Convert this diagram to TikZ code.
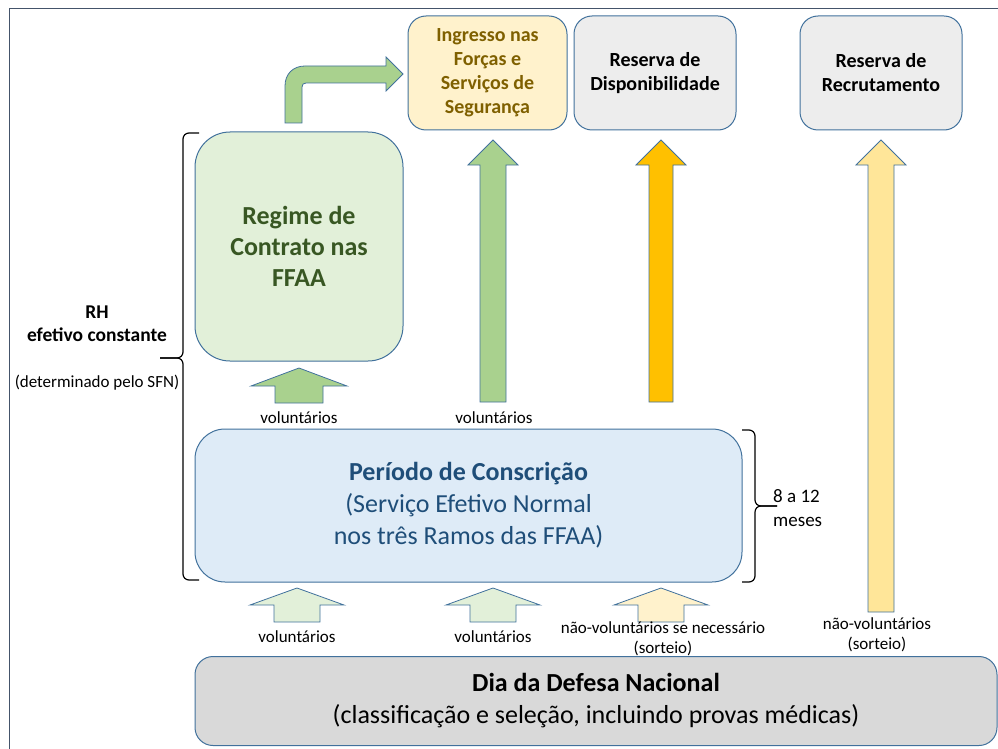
\documentclass[tikz,border=0pt]{standalone}
\usepackage{fontspec}
\setmainfont{Carlito}
\definecolor{bordc}{HTML}{41719C}
\definecolor{framec}{HTML}{44546A}
\definecolor{ingfill}{HTML}{FFF2CC}
\definecolor{ingtext}{HTML}{7F6000}
\definecolor{greyfill}{HTML}{EDEDED}
\definecolor{diafill}{HTML}{D9D9D9}
\definecolor{regfill}{HTML}{E2F0D9}
\definecolor{regtext}{HTML}{385723}
\definecolor{conbfill}{HTML}{DEEBF7}
\definecolor{context}{HTML}{1F4E79}
\definecolor{greenarr}{HTML}{A9D18E}
\definecolor{lgreenarr}{HTML}{E2F0D9}
\definecolor{orangearr}{HTML}{FFC000}
\definecolor{yellowarr}{HTML}{FFE699}
\definecolor{lyellowarr}{HTML}{FFF2CC}
\newcommand{\blkup}[7]{%
  \draw[blockarrow, fill=#7] ({#1-#5},{#4}) -- ({#1-#5},{#3}) -- ({#1-#6},{#3}) -- ({#1},{#2}) -- ({#1+#6},{#3}) -- ({#1+#5},{#3}) -- ({#1+#5},{#4}) -- cycle;}
\begin{document}
\begin{tikzpicture}[x=1pt,y=-1pt,
  boxbase/.style={draw=bordc, line width=1pt, align=center, inner sep=0pt},
  topbox/.style={boxbase, rounded corners=18pt, minimum width=162pt, minimum height=114pt,
     font=\fontsize{20}{24}\selectfont\bfseries},
  blockarrow/.style={draw=bordc, line width=0.8pt, line join=miter},
  lbl/.style={align=center, inner sep=0pt, font=\fontsize{17}{20}\selectfont},
  bracec/.style={line width=1.2pt, black, rounded corners=6pt}]
\useasboundingbox (0,0) rectangle (998,749);
\draw[framec, line width=1pt] (9,9) rectangle (1010,760);

% top boxes
\node[topbox, fill=ingfill, text=ingtext, minimum width=159pt] (ing) at (487.5,73) {Ingresso nas\\Forças e\\Serviços de\\Segurança};
\node[topbox, fill=greyfill] (disp) at (655,73) {Reserva de\\Disponibilidade};
\node[topbox, fill=greyfill] (recr) at (881,73) {Reserva de\\Recrutamento};

% regime box
\node[boxbase, fill=regfill, text=regtext, rounded corners=35pt, minimum width=208pt, minimum height=229pt,
  font=\fontsize{26}{31}\selectfont\bfseries] (reg) at (299,246.5) {Regime de\\Contrato nas\\FFAA};

% conscription box
\node[boxbase, fill=conbfill, text=context, rounded corners=30pt, minimum width=547pt, minimum height=153pt,
  font=\fontsize{26}{32}\selectfont] (cons) at (468.5,505.5) {\textbf{Período de Conscrição}\\(Serviço Efetivo Normal\\nos três Ramos das FFAA)};

% dia box
\node[boxbase, fill=diafill, text=black, rounded corners=18pt, minimum width=802pt, minimum height=89pt,
  font=\fontsize{26}{32}\selectfont] (dia) at (596,701) {\textbf{Dia da Defesa Nacional}\\(classificação e seleção, incluindo provas médicas)};

% bent arrow from regime to ingresso
\draw[blockarrow, fill=greenarr] (285,123) -- (285,86) .. controls (285,74) and (293,66) .. (305,66)
  -- (386,66) -- (386,57) -- (403,74) -- (386,91) -- (386,83) -- (306,83)
  .. controls (303.5,83) and (302,84.5) .. (302,87) -- (302,123) -- cycle;

% tall arrows
\blkup{493}{140}{165}{402}{13}{25}{greenarr}
\blkup{661}{140}{165}{402}{12}{25}{orangearr}
\blkup{881}{140}{165}{612}{13}{25}{yellowarr}

% small arrows
\blkup{299}{368}{386}{403}{24}{48}{greenarr}
\blkup{297}{588}{605}{622}{23}{47}{lgreenarr}
\blkup{493}{588}{605}{622}{23}{47}{lgreenarr}
\blkup{661}{588}{605}{622}{23}{47}{lyellowarr}

% labels
\node[lbl] (l1) at (299,418) {voluntários};
\node[lbl] (l2) at (494,418) {voluntários};
\node[lbl] (l3) at (297,637) {voluntários};
\node[lbl] (l4) at (493,637) {voluntários};
\node[lbl] (l5) at (663,639) {não-voluntários se necessário\\(sorteio)};
\node[lbl] (l6) at (877,635) {não-voluntários\\(sorteio)};

% left brace
\draw[bracec] (199,133) -| (183,358) -- (160,358);
\draw[bracec] (160,358) -- (183,358) |- (199,580);
\node[align=center, inner sep=0pt, font=\fontsize{19.5}{23}\selectfont\bfseries] (rh) at (97,323.5) {RH\\efetivo constante};
\node[lbl] (det) at (97,383) {(determinado pelo SFN)};

% right brace
\draw[bracec] (742,430) -| (755,506) -- (777,506);
\draw[bracec] (777,506) -- (755,506) |- (742,582);
\node[align=left, anchor=west, inner sep=0pt, font=\fontsize{19}{24}\selectfont] (mes) at (773,508) {8 a 12\\meses};
\end{tikzpicture}
\end{document}
